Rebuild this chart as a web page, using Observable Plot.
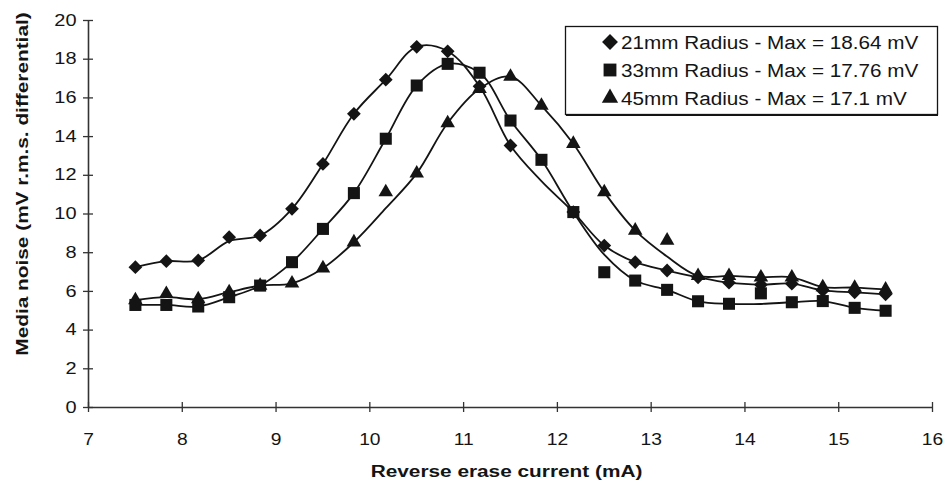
<!DOCTYPE html>
<html>
<head>
<meta charset="utf-8">
<script src="https://cdn.jsdelivr.net/npm/d3@7"></script>
<script src="https://cdn.jsdelivr.net/npm/@observablehq/plot@0.6"></script>
<style>
  html, body { margin: 0; padding: 0; background: #fff; }
  #chart { width: 950px; height: 494px; }
</style>
</head>
<body>
<div id="chart"></div>
<script>
// Reverse erase current (mA), sampled every 1/3 mA
const current = [7.5, 7.83, 8.17, 8.5, 8.83, 9.17, 9.5, 9.83, 10.17, 10.5, 10.83, 11.17, 11.5,
                 11.83, 12.17, 12.5, 12.83, 13.17, 13.5, 13.83, 14.17, 14.5, 14.83, 15.17, 15.5];

// Measured media noise (mV r.m.s. differential); null = no measurement
const noise21 = [7.25, 7.56, 7.6, 8.8, 8.89, 10.27, 12.59, 15.18, 16.94, 18.64, 18.41, 16.6, 13.54,
                 null, 10.1, 8.37, 7.51, 7.08, 6.73, 6.45, 6.35, 6.4, 6.05, 5.95, 5.85];
const noise33 = [5.3, 5.3, 5.22, 5.7, 6.3, 7.51, 9.23, 11.08, 13.89, 16.64, 17.76, 17.3, 14.83,
                 12.8, 10.1, 6.99, 6.56, 6.08, 5.49, 5.36, 5.9, 5.44, 5.5, 5.15, 5.0];
const noise45 = [5.55, 5.87, 5.6, 5.96, 6.3, 6.42, 7.2, 8.54, 11.13, 12.1, 14.7, 16.47, 17.1,
                 15.6, 13.63, 11.13, 9.15, 8.63, 6.8, 6.8, 6.73, 6.73, 6.22, 6.2, 6.1];

// Smoothed trend curves drawn through the measurements
const trend21 = [7.25, 7.56, 7.6, 8.6, 8.89, 10.27, 12.59, 15.18, 16.94, 18.64, 18.41, 16.6, 13.54,
                 11.7, 10.1, 8.37, 7.51, 7.08, 6.73, 6.45, 6.35, 6.4, 6.05, 5.95, 5.85];
const trend33 = [5.3, 5.3, 5.22, 5.7, 6.3, 7.51, 9.23, 11.08, 13.89, 16.64, 17.76, 17.3, 14.83,
                 12.8, 10.1, 7.9, 6.56, 6.08, 5.49, 5.36, 5.35, 5.44, 5.5, 5.15, 5.0];
const trend45 = [5.55, 5.7, 5.6, 5.96, 6.3, 6.42, 7.2, 8.54, 10.3, 12.1, 14.7, 16.47, 17.1,
                 15.6, 13.63, 11.13, 9.15, 7.8, 6.8, 6.8, 6.73, 6.73, 6.22, 6.2, 6.1];

const seriesNames = ["21mm Radius", "33mm Radius", "45mm Radius"];
const xTicks = [7, 8, 9, 10, 11, 12, 13, 14, 15, 16];
const yTicks = [0, 2, 4, 6, 8, 10, 12, 14, 16, 18, 20];
const xTitle = "Reverse erase current (mA)";
const yTitle = "Media noise (mV r.m.s. differential)";

const series = [
  {name: seriesNames[0], values: noise21, trend: trend21, symbol: "diamond2", r: 6.2, legendSize: 160},
  {name: seriesNames[1], values: noise33, trend: trend33, symbol: "square", r: 6.8, legendSize: 165},
  {name: seriesNames[2], values: noise45, trend: trend45, symbol: "triangle", r: 5.4, legendSize: 115}
];

const rows = series.flatMap(s => current.map((x, i) => ({name: s.name, x, y: s.values[i], t: s.trend[i]})));

const ink = "#141414";
const font = "'Liberation Sans', Arial, sans-serif";

const plot = Plot.plot({
  width: 950,
  height: 494,
  marginLeft: 88,
  marginRight: 18,
  marginTop: 20,
  marginBottom: 87,
  x: {domain: [7, 16], label: null},
  y: {domain: [0, 20], label: null},
  style: {fontFamily: font, fontSize: "16px", color: ink, background: "#fff"},
  marks: [
    // axis lines
    Plot.ruleY([0], {x1: 7, x2: 16, stroke: "#333", strokeWidth: 1.6}),
    Plot.ruleX([7], {y1: 0, y2: 20, stroke: "#333", strokeWidth: 1.6}),
    // cross tick marks
    Plot.ruleY(yTicks, {y: d => d, x1: 7, x2: 7, insetLeft: -5, insetRight: -5, stroke: "#333", strokeWidth: 1.3}),
    Plot.ruleX(xTicks, {x: d => d, y1: 0, y2: 0, insetTop: -5, insetBottom: -5, stroke: "#333", strokeWidth: 1.3}),
    Plot.axisX({ticks: xTicks, tickSize: 0, tickPadding: 26, tickFormat: d => String(d), label: null, fill: ink}),
    Plot.axisY({ticks: yTicks, tickSize: 0, tickPadding: 12, tickFormat: d => String(d), label: null, fill: ink}),
    // trend curves
    Plot.line(rows, {x: "x", y: "t", z: "name", curve: "catmull-rom", stroke: ink, strokeWidth: 1.8}),
    // measured points
    ...series.map(s => Plot.dot(rows.filter(d => d.name === s.name && d.y != null),
      {x: "x", y: "y", symbol: () => s.symbol, r: s.r, fill: ink, stroke: "none"})),
    // axis titles
    Plot.text([xTitle], {text: d => d, frameAnchor: "bottom", textAnchor: "middle", dx: -4, dy: 69,
      fontWeight: "bold", fontSize: 16, fill: ink}),
    Plot.text([yTitle], {text: d => d, frameAnchor: "left", textAnchor: "middle", dx: -66, dy: -30, rotate: -90,
      fontWeight: "bold", fontSize: 16, fill: ink})
  ]
});

document.getElementById("chart").appendChild(plot);

// legend box in the upper right of the plot area
const svg = d3.select(plot);
const legend = svg.append("g").attr("aria-label", "legend").attr("text-anchor", "start");
legend.append("rect")
  .attr("x", 565.5).attr("y", 26.5).attr("width", 372).attr("height", 88)
  .attr("fill", "#fff").attr("stroke", ink).attr("stroke-width", 1.3);
legend.append("line")
  .attr("x1", 566).attr("x2", 938).attr("y1", 115.5).attr("y2", 115.5)
  .attr("stroke", ink).attr("stroke-width", 1);
const symbolTypes = {diamond2: d3.symbolDiamond2, square: d3.symbolSquare, triangle: d3.symbolTriangle};
series.forEach((s, i) => {
  const base = 48.5 + i * 28;
  const maxValue = d3.max(s.values);
  legend.append("path")
    .attr("d", d3.symbol(symbolTypes[s.symbol], s.legendSize)())
    .attr("transform", `translate(610,${base - 6.5})`)
    .attr("fill", ink);
  legend.append("text")
    .attr("class", "legend-label")
    .attr("x", 621).attr("y", base)
    .attr("text-anchor", "start")
    .attr("font-size", 18).attr("fill", ink)
    .attr("font-family", font)
    .text(`${s.name} - Max = ${maxValue} mV`);
});

// widen the lettering to the chart's broad type
function widen(elements, k) {
  elements.forEach(t => {
    const w = t.getComputedTextLength();
    if (w > 0) {
      t.setAttribute("textLength", (w * k).toFixed(1));
      t.setAttribute("lengthAdjust", "spacingAndGlyphs");
    }
  });
}
const allText = Array.from(plot.querySelectorAll("text"));
widen(Array.from(plot.querySelectorAll('g[aria-label="x-axis tick label"] text')), 1.2);
widen(Array.from(plot.querySelectorAll('g[aria-label="y-axis tick label"] text')), 1.25);
widen(allText.filter(t => t.textContent === xTitle || t.textContent === yTitle), 1.3);
widen(Array.from(plot.querySelectorAll("text.legend-label")), 1.15);
</script>
</body>
</html>
